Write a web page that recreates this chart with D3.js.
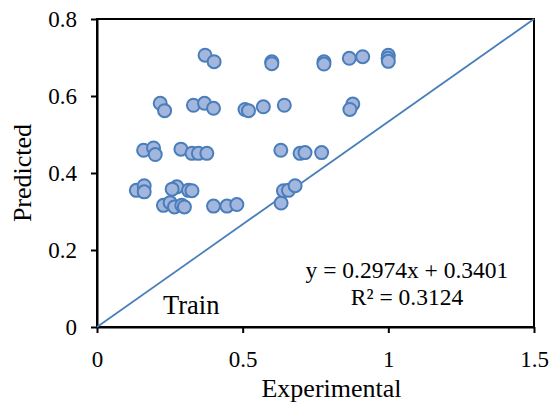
<!DOCTYPE html>
<html><head><meta charset="utf-8">
<script src="https://cdn.jsdelivr.net/npm/d3@7/dist/d3.min.js"></script>
<style>body{margin:0;background:#fff}svg{display:block}text{font-family:"Liberation Serif","Times New Roman",serif;fill:#000}</style>
</head><body><svg id="c" width="551" height="402"></svg>
<script>
const expX = [0.135,0.162,0.162,0.274,0.258,0.314,0.326,0.228,0.251,0.266,0.291,0.300,0.400,0.446,0.480,0.632,0.640,0.657,0.680,
  0.160,0.194,0.200,0.288,0.326,0.348,0.377,0.631,0.697,0.714,0.771,
  0.217,0.232,0.331,0.369,0.400,0.508,0.520,0.571,0.643,0.878,0.868,
  0.371,0.402,0.600,0.600,0.779,0.779,0.866,0.912,1.000,0.999,1.000];
const predY = [0.355,0.367,0.351,0.364,0.358,0.355,0.354,0.316,0.323,0.312,0.316,0.312,0.314,0.314,0.318,0.322,0.354,0.355,0.367,
  0.459,0.465,0.448,0.462,0.451,0.451,0.451,0.459,0.451,0.453,0.453,
  0.581,0.562,0.576,0.581,0.568,0.565,0.562,0.572,0.576,0.579,0.565,
  0.706,0.689,0.689,0.684,0.689,0.683,0.698,0.702,0.706,0.698,0.690];
const xTicks = [0,0.5,1,1.5];
const xTickLabels = ["0","0.5","1","1.5"];
const yTicks = [0,0.2,0.4,0.6,0.8];
const yTickLabels = ["0","0.2","0.4","0.6","0.8"];
const eqLines = ["y = 0.2974x + 0.3401","R² = 0.3124"];

const svg = d3.select("#c");
const L=97, R=534, T=19, B=327;
const x = d3.scaleLinear().domain([0,1.5]).range([L,R]);
const y = d3.scaleLinear().domain([0,0.8]).range([B,T]);

svg.append("rect").attr("x",L).attr("y",T).attr("width",R-L).attr("height",B-T)
  .attr("fill","none").attr("stroke","#000").attr("stroke-width",2);

const xa = svg.append("g").attr("transform",`translate(0,${B})`)
  .call(d3.axisBottom(x).tickValues(xTicks).tickFormat((d,i)=>xTickLabels[i]).tickSizeOuter(0).tickSizeInner(6));
const ya = svg.append("g").attr("transform",`translate(${L},0)`)
  .call(d3.axisLeft(y).tickValues(yTicks).tickFormat((d,i)=>yTickLabels[i]).tickSizeOuter(0).tickSizeInner(6).tickPadding(14));
[xa,ya].forEach(g=>{
  g.attr("font-family",null).attr("font-size",null);
  g.select(".domain").attr("stroke","#000").attr("stroke-width",2);
  g.selectAll(".tick line").attr("stroke","#000").attr("stroke-width",2);
  g.selectAll(".tick text").style("font-family","'Liberation Serif',serif").style("font-size","23px").attr("fill","#000");
});
xa.selectAll(".tick text").attr("y",40).attr("dy",0);
ya.selectAll(".tick text").attr("dy","0.34em");

svg.append("line").attr("x1",x(0)).attr("y1",y(0)).attr("x2",x(1.5)).attr("y2",y(0.8))
  .attr("stroke","#4a7ebb").attr("stroke-width",1.75);

svg.append("g").selectAll("circle").data(expX.map((v,i)=>[v,predY[i]])).join("circle")
  .attr("cx",d=>x(d[0])).attr("cy",d=>y(d[1])).attr("r",6.5)
  .attr("fill","#a3b6de").attr("stroke","#4a7ebb").attr("stroke-width",2);

svg.append("text").attr("x",(L+R)/2+16).attr("y",397).attr("text-anchor","middle").style("font-size","26px").text("Experimental");
svg.append("text").attr("transform",`translate(31,${(T+B)/2}) rotate(-90)`).attr("text-anchor","middle").style("font-size","26px").text("Predicted");
svg.append("text").attr("x",163).attr("y",314).style("font-size","26.5px").text("Train");
svg.selectAll("text.eq").data(eqLines).join("text").attr("class","eq")
  .attr("x",407).attr("y",(d,i)=>278+i*27).attr("text-anchor","middle").style("font-size","23.5px").text(d=>d);
</script></body></html>
